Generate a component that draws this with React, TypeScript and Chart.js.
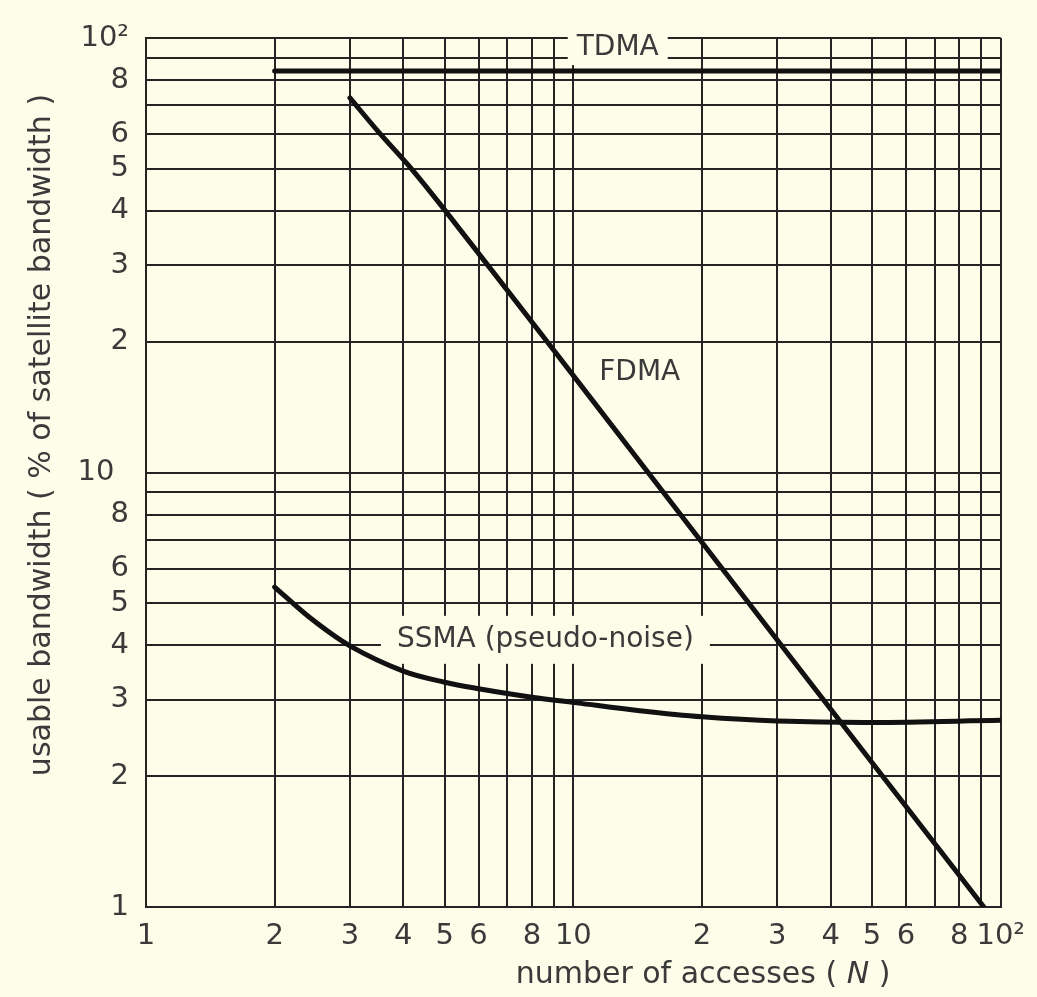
import React, { useEffect, useRef } from 'react';
import { Chart, registerables } from 'chart.js';

Chart.register(...registerables);

// ---- data ----
const GRID_TICKS = [1, 2, 3, 4, 5, 6, 7, 8, 9, 10, 20, 30, 40, 50, 60, 70, 80, 90, 100];
const LABELED_TICKS = [1, 2, 3, 4, 5, 6, 8, 10, 20, 30, 40, 50, 60, 80, 100];

const TDMA_X = [2, 100];
const TDMA_Y = [84, 84];

const FDMA_X = [3, 3.52, 4.18, 4.94, 8.65, 15.05, 33.7, 91.3];
const FDMA_Y = [72.8, 60.4, 50, 40.8, 20.1, 9.92, 3.55, 1.0];

const SSMA_X = [2, 2.42, 3, 4, 5, 6, 8, 10.2, 14.3, 20, 30, 50, 100];
const SSMA_Y = [5.45, 4.63, 3.99, 3.49, 3.29, 3.18, 3.04, 2.95, 2.83, 2.74, 2.68, 2.66, 2.69];

const LABELS = [
  { text: 'TDMA', x: 12.7, y: 94.8, box: true, padX: 9, h: 34 },
  { text: 'FDMA', x: 14.3, y: 17.0, box: false, padX: 0, h: 0 },
  { text: 'SSMA (pseudo-noise)', x: 8.6, y: 4.12, box: true, padX: 16, h: 48 },
];

const X_TITLE = ['number of accesses ( ', 'N', ' )'];
const Y_TITLE = 'usable bandwidth ( % of satellite bandwidth )';

const BG = '#fdfde9';
const INK = '#111111';
const GRID = '#242424';
const TEXT = '#3a3a3a';
const FONT = '"DejaVu Sans", sans-serif';

const pts = (xs: number[], ys: number[]) => xs.map((x, i) => ({ x, y: ys[i] }));

const labelFor = (v: number, axis: 'x' | 'y') => {
  if (!LABELED_TICKS.includes(v)) return '';
  if (v === 100) return '10\u00B2';
  if (v === 10) return axis === 'y' ? '10\u2002' : '10';
  return String(v >= 10 ? v / 10 : v);
};

const annotPlugin = {
  id: 'annot',
  beforeDatasetsDraw(chart: any) {
    const { ctx, scales } = chart;
    const xs = scales.x;
    const ys = scales.y;
    ctx.save();
    ctx.font = `28px ${FONT}`;
    ctx.textAlign = 'center';
    ctx.textBaseline = 'middle';
    for (const l of LABELS) {
      const px = xs.getPixelForValue(l.x);
      const py = ys.getPixelForValue(l.y);
      if (l.box) {
        const w = ctx.measureText(l.text).width + l.padX * 2;
        ctx.fillStyle = BG;
        ctx.fillRect(px - w / 2, py - l.h / 2, w, l.h);
      }
      ctx.fillStyle = TEXT;
      ctx.fillText(l.text, px, py);
    }
    ctx.restore();
  },
  afterDraw(chart: any) {
    const { ctx } = chart;
    ctx.save();
    ctx.fillStyle = TEXT;
    ctx.textBaseline = 'middle';
    // x title
    const normal = `30px ${FONT}`;
    const italic = `italic 30px ${FONT}`;
    ctx.font = normal;
    const w0 = ctx.measureText(X_TITLE[0]).width;
    const w2 = ctx.measureText(X_TITLE[2]).width;
    ctx.font = italic;
    const w1 = ctx.measureText(X_TITLE[1]).width;
    let sx = 703 - (w0 + w1 + w2) / 2;
    const sy = 975;
    ctx.textAlign = 'left';
    ctx.font = normal;
    ctx.fillText(X_TITLE[0], sx, sy);
    sx += w0;
    ctx.font = italic;
    ctx.fillText(X_TITLE[1], sx, sy);
    sx += w1;
    ctx.font = normal;
    ctx.fillText(X_TITLE[2], sx, sy);
    // y title
    ctx.translate(42, 435);
    ctx.rotate(-Math.PI / 2);
    ctx.textAlign = 'center';
    ctx.font = `30px ${FONT}`;
    ctx.fillText(Y_TITLE, 0, 0);
    ctx.restore();
  },
};

export default function App() {
  const ref = useRef<HTMLCanvasElement | null>(null);

  useEffect(() => {
    document.body.style.margin = '0';
    document.body.style.background = BG;
    const canvas = ref.current;
    if (!canvas) return;
    const line = (data: any, tension: number) => ({
      data,
      borderColor: INK,
      borderWidth: 5,
      pointRadius: 0,
      fill: false,
      tension,
      borderCapStyle: 'round' as const,
      borderJoinStyle: 'round' as const,
    });
    const commonScale = {
      type: 'logarithmic' as const,
      min: 1,
      max: 100,
      afterBuildTicks: (scale: any) => {
        scale.ticks = GRID_TICKS.map((v) => ({ value: v }));
      },
      grid: { color: GRID, lineWidth: 2, drawTicks: false },
      border: { display: true, color: GRID, width: 2 },
    };
    const chart = new Chart(canvas, {
      type: 'line',
      data: {
        datasets: [
          line(pts(TDMA_X, TDMA_Y), 0),
          line(pts(FDMA_X, FDMA_Y), 0.3),
          line(pts(SSMA_X, SSMA_Y), 0.35),
        ],
      },
      options: {
        animation: false,
        responsive: false,
        maintainAspectRatio: false,
        layout: { padding: { top: 38, right: 35, left: 0, bottom: 0 } },
        plugins: { legend: { display: false }, tooltip: { enabled: false }, title: { display: false } },
        scales: {
          x: {
            ...commonScale,
            position: 'bottom',
            afterFit: (s: any) => {
              s.height = 90;
            },
            ticks: {
              autoSkip: false,
              maxRotation: 0,
              minRotation: 0,
              padding: 12,
              color: TEXT,
              font: { family: FONT, size: 29 },
              callback: (v: any) => labelFor(Number(v), 'x'),
            },
          },
          y: {
            ...commonScale,
            position: 'left',
            afterFit: (s: any) => {
              s.width = 146;
            },
            ticks: {
              autoSkip: false,
              padding: 17,
              color: TEXT,
              font: { family: FONT, size: 29 },
              callback: (v: any) => labelFor(Number(v), 'y'),
            },
          },
        },
      },
      plugins: [annotPlugin],
    } as any);
    return () => chart.destroy();
  }, []);

  return (
    <div style={{ width: 1037, height: 997, background: BG }}>
      <canvas ref={ref} width={1037} height={997} style={{ display: 'block' }} />
    </div>
  );
}
